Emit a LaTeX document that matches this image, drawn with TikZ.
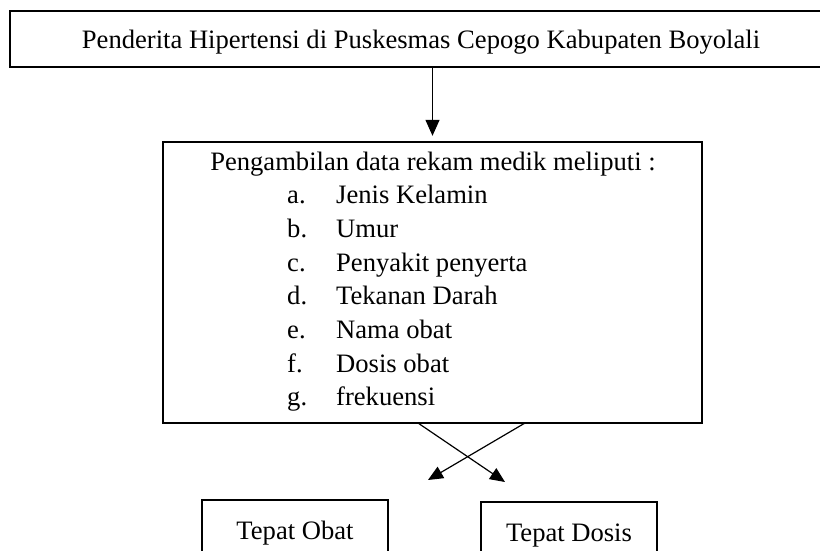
\documentclass[tikz,border=0pt]{standalone}
\usepackage{fontspec}
\setmainfont{Liberation Serif}
\usetikzlibrary{arrows.meta}
\begin{document}
\begin{tikzpicture}[x=1pt,y=-1pt,
  boxthick/.style={draw=black, line width=2.4pt, inner sep=0pt},
  boxthin/.style={draw=black, line width=2pt, inner sep=0pt},
  txt/.style={font=\fontsize{26.6}{30}\selectfont, inner sep=0pt},
  arr/.style={line width=1.3pt, -{Triangle[length=16pt,width=14pt]}},
  carr/.style={line width=1.2pt, -{Triangle[length=15pt,width=13pt]}}]
\useasboundingbox (0,0) rectangle (820,550);
\clip (0,0) rectangle (820,550);
% top box
\node[boxthick, txt, minimum width=822pt, minimum height=56pt, text height=18pt, text depth=0pt] (top) at (421,39) {Penderita Hipertensi di Puskesmas Cepogo Kabupaten Boyolali};
% middle box
\node[boxthick, minimum width=539pt, minimum height=281pt] (mid) at (432.5,282.5) {};
\node[txt, anchor=base] (l0) at (433,170) {Pengambilan data rekam medik meliputi :};
\foreach \k/\t [count=\i from 1] in {a/Jenis Kelamin, b/Umur, c/Penyakit penyerta, d/Tekanan Darah, e/Nama obat, f/Dosis obat, g/frekuensi}{
  \node[txt, anchor=base west] (let\i) at (287,170+\i*33.7) {\k.};
  \node[txt, anchor=base west] (item\i) at (336,170+\i*33.7) {\t};
}
% bottom boxes
\node[boxthin, txt, minimum width=186pt, minimum height=60pt, text height=18pt, text depth=0pt] (obat) at (295,530) {Tepat Obat};
\node[boxthin, txt, minimum width=176pt, minimum height=60pt, text height=18pt, text depth=0pt] (dosis) at (569,532) {Tepat Dosis};
% connectors
\draw[arr, shorten >=5pt] (mid.north |- top.south) -- (mid.north);
\coordinate (s1) at (418,423);
\coordinate (e1) at (505,482);
\coordinate (s2) at (525,423);
\coordinate (e2) at (428,480);
\draw[carr] (s1) -- (e1);
\draw[carr] (s2) -- (e2);
\end{tikzpicture}
\end{document}
